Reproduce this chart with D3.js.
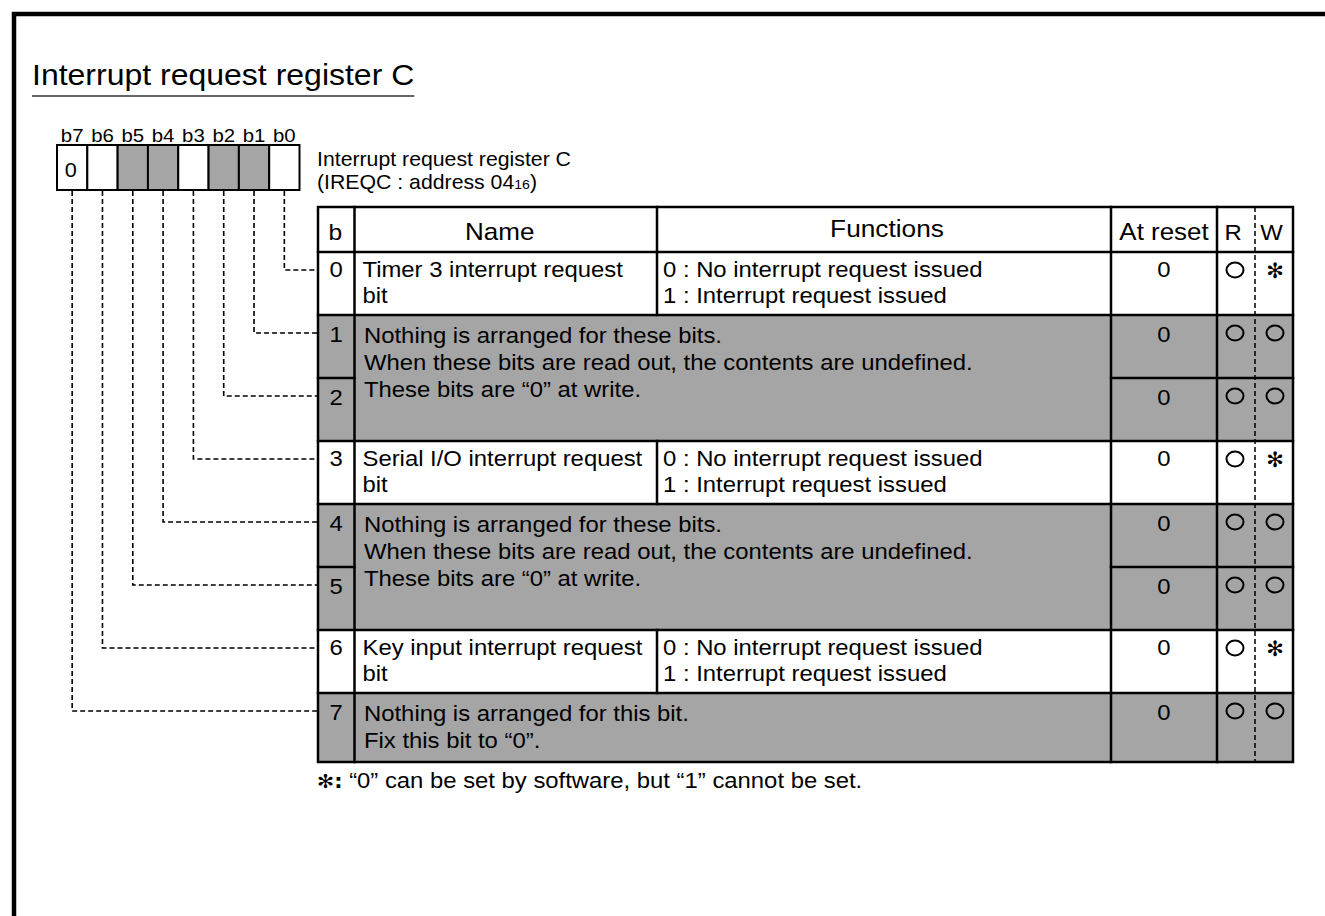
<!DOCTYPE html>
<html><head><meta charset="utf-8">
<script src="https://cdn.jsdelivr.net/npm/d3@7"></script>
<style>html,body{margin:0;padding:0;background:#fff;} svg{display:block;}</style>
</head><body>
<svg id="c" width="1325" height="916"></svg>
<script>
// ---------------- data ----------------
const title = "Interrupt request register C";
const registerName = "Interrupt request register C";
const registerAddress = ["(IREQC : address 04", "16", ")"];
const bitLabels = ["b7", "b6", "b5", "b4", "b3", "b2", "b1", "b0"];
const bitReserved = [false, false, true, true, false, true, true, false];
const bitFixedValues = ["0", "", "", "", "", "", "", ""];
const tableHeaders = ["b", "Name", "Functions", "At reset", "R", "W"];
const bits = [0, 1, 2, 3, 4, 5, 6, 7];
const bitNames = [
  ["Timer 3 interrupt request", "bit"], null, null,
  ["Serial I/O interrupt request", "bit"], null, null,
  ["Key input interrupt request", "bit"], null
];
const bitFunctions = [
  ["0 : No interrupt request issued", "1 : Interrupt request issued"], null, null,
  ["0 : No interrupt request issued", "1 : Interrupt request issued"], null, null,
  ["0 : No interrupt request issued", "1 : Interrupt request issued"], null
];
const atReset = ["0", "0", "0", "0", "0", "0", "0", "0"];
const readMarks = ["○", "○", "○", "○", "○", "○", "○", "○"];
const writeMarks = ["✻", "○", "○", "✻", "○", "○", "✻", "○"];
const reservedGroups = [
  { bits: [1, 2], lines: ["Nothing is arranged for these bits.", "When these bits are read out, the contents are undefined.", "These bits are “0” at write."] },
  { bits: [4, 5], lines: ["Nothing is arranged for these bits.", "When these bits are read out, the contents are undefined.", "These bits are “0” at write."] },
  { bits: [7], lines: ["Nothing is arranged for this bit.", "Fix this bit to “0”."] }
];
const footnoteMark = "✻:";
const footnote = " “0” can be set by software, but “1” cannot be set.";

// ---------------- layout / style ----------------
const FONT = "'Liberation Sans', Arial, Helvetica, sans-serif";
const SX = 1.085;
const GRAY = "#a5a5a5";
const svg = d3.select("#c");

function txt(g, x, y, s, size, anchor, opts) {
  opts = opts || {};
  const t = g.append("text")
    .attr("transform", `translate(${x},${y}) scale(${opts.sx || SX},1)`)
    .attr("font-family", opts.family || FONT)
    .attr("font-size", size)
    .attr("text-anchor", anchor || "start")
    .attr("fill", "#000");
  if (opts.weight) t.attr("font-weight", opts.weight);
  if (s != null) t.text(s);
  return t;
}

// frame (top and left only)
svg.append("path").attr("d", "M14,916V14H1325")
  .attr("fill", "none").attr("stroke", "#000").attr("stroke-width", 4.5);

// title
const tt = txt(svg, 32, 85, title, 29.5);
const titleW = tt.node().getComputedTextLength() * SX;
svg.append("line").attr("x1", 32).attr("x2", 32 + titleW).attr("y1", 96).attr("y2", 96)
  .attr("stroke", "#333").attr("stroke-width", 1.6);

// register boxes
const xReg = d3.scaleBand().domain(bitLabels).range([57, 299.5]);
const regTop = 145, regH = 45;
const reg = svg.append("g");
reg.selectAll("rect").data(bitLabels).join("rect")
  .attr("x", d => xReg(d)).attr("y", regTop)
  .attr("width", xReg.bandwidth()).attr("height", regH)
  .attr("fill", (d, i) => bitReserved[i] ? GRAY : "#fff")
  .attr("stroke", "#000").attr("stroke-width", 2);
bitLabels.forEach((b, i) => {
  txt(reg, xReg(b) + xReg.bandwidth() / 2, 141.5, b, 18.8, "middle");
  if (bitFixedValues[i]) txt(reg, xReg(b) + xReg.bandwidth() / 2 - 1.5, 177, bitFixedValues[i], 20, "middle");
});

// register description
txt(svg, 317, 166, registerName, 19.6);
const addr = txt(svg, 317, 189, null, 19.6);
addr.append("tspan").text(registerAddress[0]);
addr.append("tspan").attr("font-size", 13).text(registerAddress[1]);
addr.append("tspan").text(registerAddress[2]);

// table geometry
const tableLeft = 318;
const colWidths = [36.5, 302.5, 454, 106, 38, 38];
const colEdges = [tableLeft];
colWidths.forEach(w => colEdges.push(colEdges[colEdges.length - 1] + w));
const tableRight = colEdges[6];
const headerTop = 207, headerBottom = 252, tableBottom = 762;
const y = d3.scaleBand().domain(bits).range([headerBottom, 756]);
const rowH = b => b === bits[bits.length - 1] ? tableBottom - y(b) : y.bandwidth();
const groupOf = b => reservedGroups.findIndex(g => g.bits.includes(b));

const tbl = svg.append("g");
// backgrounds
tbl.append("rect").attr("x", tableLeft).attr("y", headerTop).attr("width", tableRight - tableLeft)
  .attr("height", headerBottom - headerTop).attr("fill", "#fff");
tbl.selectAll("rect.row").data(bits).join("rect").attr("class", "row")
  .attr("x", tableLeft).attr("y", d => y(d)).attr("width", tableRight - tableLeft).attr("height", d => rowH(d))
  .attr("fill", d => bitNames[d] ? "#fff" : GRAY);

// grid lines
const lines = tbl.append("g").attr("stroke", "#000").attr("stroke-width", 2.5).attr("stroke-linecap", "square");
function hline(x1, x2, yy) { lines.append("line").attr("x1", x1).attr("x2", x2).attr("y1", yy).attr("y2", yy); }
function vline(xx, y1, y2) { lines.append("line").attr("x1", xx).attr("x2", xx).attr("y1", y1).attr("y2", y2); }
hline(tableLeft, tableRight, headerBottom);
bits.forEach(b => {
  if (b === 0) return;
  const g1 = groupOf(b), g0 = groupOf(b - 1);
  if (g1 >= 0 && g1 === g0) {
    hline(colEdges[0], colEdges[1], y(b));
    hline(colEdges[3], tableRight, y(b));
  } else {
    hline(tableLeft, tableRight, y(b));
  }
});
vline(colEdges[1], headerTop, tableBottom);
vline(colEdges[3], headerTop, tableBottom);
vline(colEdges[4], headerTop, tableBottom);
vline(colEdges[2], headerTop, headerBottom);
bits.forEach(b => { if (bitNames[b]) vline(colEdges[2], y(b), y(b) + rowH(b)); });
lines.append("rect").attr("x", tableLeft).attr("y", headerTop).attr("width", tableRight - tableLeft)
  .attr("height", tableBottom - headerTop).attr("fill", "none");
// R|W dashed divider
tbl.append("line").attr("x1", colEdges[5]).attr("x2", colEdges[5]).attr("y1", headerTop).attr("y2", tableBottom)
  .attr("stroke", "#000").attr("stroke-width", 1.5).attr("stroke-dasharray", "5,3");

// header texts
const hx = i => (colEdges[i] + colEdges[i + 1]) / 2;
txt(tbl, hx(0) - 1, 240, tableHeaders[0], 22.7, "middle");
txt(tbl, hx(1) - 6, 240, tableHeaders[1], 24, "middle");
txt(tbl, hx(2) + 3, 237, tableHeaders[2], 24.2, "middle");
txt(tbl, hx(3), 240, tableHeaders[3], 23.9, "middle");
txt(tbl, hx(4) - 3, 240, tableHeaders[4], 22, "middle");
txt(tbl, hx(5) - 2.5, 240, tableHeaders[5], 22, "middle");

// row texts
const FS = 22;
bits.forEach(b => {
  const top = y(b);
  const off = bitNames[b] ? 25 : 27;
  txt(tbl, hx(0), top + off, String(b), FS, "middle");
  txt(tbl, hx(3), top + off, atReset[b], FS, "middle");
  if (bitNames[b]) {
    bitNames[b].forEach((s, k) => txt(tbl, colEdges[1] + 8, top + 25 + k * 26, s, FS));
    bitFunctions[b].forEach((s, k) => txt(tbl, colEdges[2] + 6, top + 25 + k * 25.5, s, FS));
  }
  const cy = top + 18;
  const marks = [[readMarks[b], hx(4) - 1], [writeMarks[b], hx(5) + 1]];
  marks.forEach(([m, cx]) => {
    if (m === "○") {
      tbl.append("ellipse").attr("cx", cx).attr("cy", cy).attr("rx", 8.5).attr("ry", 7.5)
        .attr("fill", "none").attr("stroke", "#000").attr("stroke-width", 2);
    } else {
      txt(tbl, cx, cy + 8, m, 21, "middle", { family: "'DejaVu Sans', sans-serif", weight: "bold", sx: 1 });
    }
  });
});
reservedGroups.forEach(g => {
  const top = y(g.bits[0]);
  g.lines.forEach((s, k) => txt(tbl, colEdges[1] + 9.5, top + 28 + k * 27, s, FS));
});

// connectors
const conn = svg.append("g").attr("fill", "none").attr("stroke", "#000")
  .attr("stroke-width", 1.6).attr("stroke-dasharray", "5,3");
bitLabels.forEach((lbl, i) => {
  const bit = 7 - i;
  const cx = xReg(lbl) + xReg.bandwidth() / 2;
  const yc = y(bit) + 18;
  conn.append("path").attr("d", `M${cx},${regTop + regH + 1}V${yc}H${tableLeft}`);
});

// footnote
const fn = txt(svg, 317, 788, null, FS);
fn.append("tspan").attr("font-family", "'DejaVu Sans', sans-serif").attr("font-weight", "bold").attr("font-size", 19).text(footnoteMark);
fn.append("tspan").text(footnote);
</script>
</body></html>
